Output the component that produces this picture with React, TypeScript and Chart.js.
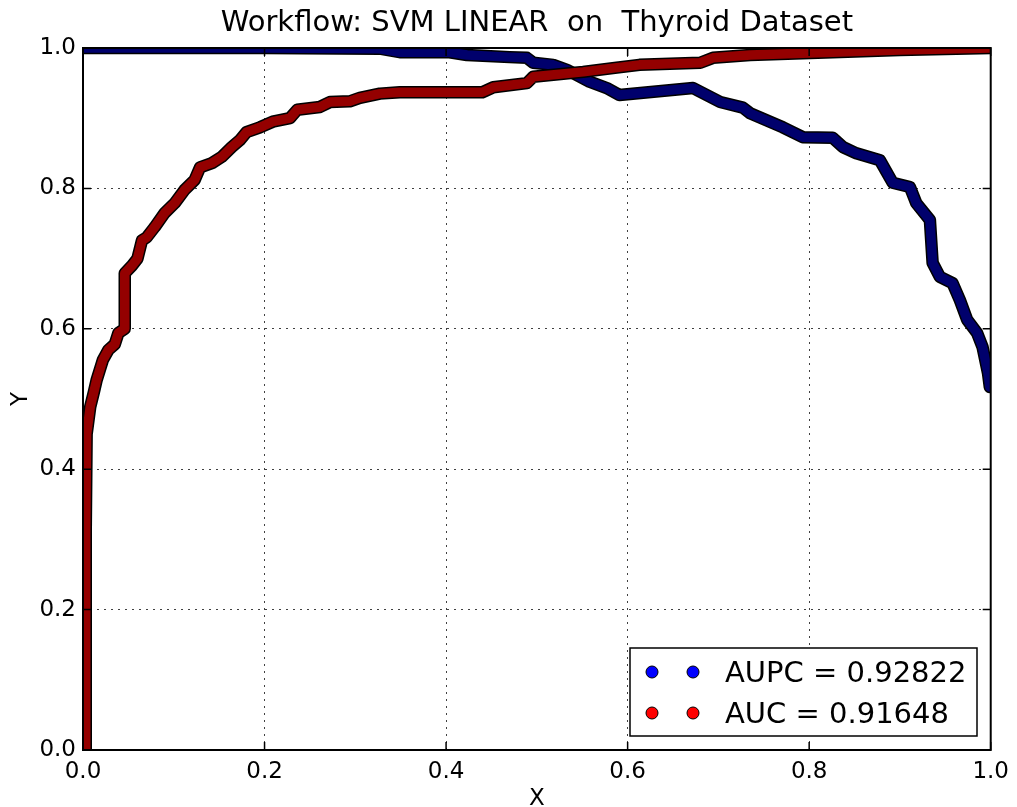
import React, { useEffect, useRef } from "react";
import { Chart, registerables } from "chart.js";

Chart.register(...registerables);

const titleText = "Workflow: SVM LINEAR  on  Thyroid Dataset";
const xLabel = "X";
const yLabel = "Y";
const legendLabels = ["AUPC = 0.92822", "AUC = 0.91648"];
const tickValues = [0, 0.2, 0.4, 0.6, 0.8, 1.0];

// AUC (ROC) curve, red
const rocX = [0.003, 0.003, 0.004, 0.008, 0.012, 0.015, 0.022, 0.028, 0.035, 0.039, 0.046, 0.046, 0.054, 0.06, 0.065, 0.07, 0.079, 0.09, 0.101, 0.112, 0.123, 0.129, 0.142, 0.153, 0.164, 0.173, 0.18, 0.195, 0.209, 0.228, 0.236, 0.261, 0.272, 0.294, 0.305, 0.327, 0.349, 0.44, 0.452, 0.489, 0.496, 0.551, 0.588, 0.613, 0.68, 0.694, 0.735, 0.826, 0.9, 1.0];
const rocY = [0.0, 0.31, 0.45, 0.489, 0.51, 0.527, 0.556, 0.57, 0.578, 0.594, 0.6, 0.679, 0.69, 0.7, 0.726, 0.73, 0.745, 0.765, 0.779, 0.798, 0.812, 0.83, 0.836, 0.845, 0.859, 0.869, 0.88, 0.887, 0.895, 0.9, 0.912, 0.916, 0.923, 0.924, 0.929, 0.935, 0.937, 0.937, 0.944, 0.95, 0.959, 0.966, 0.972, 0.976, 0.979, 0.986, 0.99, 0.994, 0.997, 1.0];

// AUPC curve, blue
const prX = [0.0, 0.2, 0.327, 0.349, 0.404, 0.423, 0.47, 0.489, 0.496, 0.518, 0.533, 0.558, 0.577, 0.591, 0.672, 0.687, 0.702, 0.727, 0.735, 0.771, 0.793, 0.826, 0.837, 0.852, 0.878, 0.892, 0.911, 0.918, 0.933, 0.936, 0.944, 0.958, 0.966, 0.974, 0.985, 0.991, 0.997, 0.999];
const prY = [1.0, 1.0, 0.999, 0.994, 0.994, 0.99, 0.987, 0.986, 0.979, 0.976, 0.969, 0.952, 0.943, 0.933, 0.943, 0.933, 0.923, 0.915, 0.907, 0.887, 0.873, 0.872, 0.859, 0.85, 0.84, 0.808, 0.802, 0.779, 0.755, 0.694, 0.674, 0.665, 0.641, 0.613, 0.594, 0.574, 0.537, 0.517];

const toPts = (xs: number[], ys: number[]) => xs.map((x, i) => ({ x, y: ys[i] }));

const FONT = "'DejaVu Sans', sans-serif";

const decorPlugin = {
  id: "decor",
  afterDatasetsDraw(chart: any) {
    const { ctx, chartArea } = chart;
    const { left, right, top, bottom } = chartArea;
    const xs = chart.scales.x;
    const ys = chart.scales.y;
    ctx.save();
    ctx.strokeStyle = "#000";
    ctx.lineWidth = 2;
    ctx.strokeRect(left, top, right - left, bottom - top);
    ctx.lineWidth = 1.5;
    const tl = 8;
    tickValues.forEach((v) => {
      const px = xs.getPixelForValue(v);
      const py = ys.getPixelForValue(v);
      ctx.beginPath();
      ctx.moveTo(px, bottom);
      ctx.lineTo(px, bottom - tl);
      ctx.moveTo(px, top);
      ctx.lineTo(px, top + tl);
      ctx.moveTo(left, py);
      ctx.lineTo(left + tl, py);
      ctx.moveTo(right, py);
      ctx.lineTo(right - tl, py);
      ctx.stroke();
    });
    ctx.fillStyle = "#000";
    ctx.font = `29px ${FONT}`;
    ctx.textAlign = "center";
    ctx.textBaseline = "alphabetic";
    ctx.fillText(titleText, (left + right) / 2, 31);
    ctx.font = `23px ${FONT}`;
    ctx.fillText(xLabel, (left + right) / 2, 805);
    ctx.save();
    ctx.translate(27, (top + bottom) / 2);
    ctx.rotate(-Math.PI / 2);
    ctx.fillText(yLabel, 0, 0);
    ctx.restore();
    const bx = 630, by = 648, bw = 347, bh = 88;
    ctx.fillStyle = "#fff";
    ctx.fillRect(bx, by, bw, bh);
    ctx.strokeStyle = "#000";
    ctx.lineWidth = 1.5;
    ctx.strokeRect(bx, by, bw, bh);
    const rows = [
      { y: 672, color: "#0000ff", label: legendLabels[0] },
      { y: 713, color: "#ff0000", label: legendLabels[1] },
    ];
    rows.forEach((r) => {
      [652, 693].forEach((mx) => {
        ctx.beginPath();
        ctx.arc(mx, r.y, 6, 0, Math.PI * 2);
        ctx.fillStyle = r.color;
        ctx.fill();
        ctx.lineWidth = 1;
        ctx.strokeStyle = "#000";
        ctx.stroke();
      });
      ctx.fillStyle = "#000";
      ctx.font = `29px ${FONT}`;
      ctx.textAlign = "left";
      ctx.textBaseline = "alphabetic";
      ctx.fillText(r.label, 725, r.y + 10);
    });
    ctx.restore();
  },
};

export default function App() {
  const ref = useRef<HTMLCanvasElement | null>(null);
  useEffect(() => {
    if (!ref.current) return;
    const roc = toPts(rocX, rocY);
    const pr = toPts(prX, prY);
    const common = {
      showLine: true,
      tension: 0,
      clip: 0,
      borderJoinStyle: "round",
      borderCapStyle: "round",
      pointRadius: 0,
      pointHoverRadius: 0,
    };
    const chart = new Chart(ref.current, {
      type: "scatter",
      data: {
        datasets: [
          { ...common, label: "AUC", data: roc, borderColor: "#940000", borderWidth: 9.5, order: 1 },
          { ...common, label: "AUC outline", data: roc, borderColor: "#000", borderWidth: 12.5, order: 2 },
          { ...common, label: "AUPC", data: pr, borderColor: "#00006c", borderWidth: 9.5, order: 3 },
          { ...common, label: "AUPC outline", data: pr, borderColor: "#000", borderWidth: 12.5, order: 4 },
        ] as any,
      },
      options: {
        animation: false,
        responsive: false,
        maintainAspectRatio: false,
        layout: { padding: { left: 0, right: 26, top: 48, bottom: 0 } },
        plugins: {
          legend: { display: false },
          tooltip: { enabled: false },
          title: { display: false },
        },
        scales: {
          x: {
            type: "linear",
            min: 0,
            max: 1,
            afterFit: (s: any) => {
              s.height = 57;
            },
            afterBuildTicks: (s: any) => {
              s.ticks = tickValues.map((v) => ({ value: v }));
            },
            ticks: {
              font: { family: FONT, size: 23 },
              color: "#000",
              padding: 8,
              maxRotation: 0,
              callback: (v: any) => Number(v).toFixed(1),
            },
            grid: { display: true, drawTicks: false, color: "rgba(0,0,0,0.75)", lineWidth: 1 },
            border: { display: false, dash: [2, 5] },
          },
          y: {
            type: "linear",
            min: 0,
            max: 1,
            afterFit: (s: any) => {
              s.width = 83;
            },
            afterBuildTicks: (s: any) => {
              s.ticks = tickValues.map((v) => ({ value: v }));
            },
            ticks: {
              font: { family: FONT, size: 23 },
              color: "#000",
              padding: 7,
              callback: (v: any) => Number(v).toFixed(1),
            },
            grid: { display: true, drawTicks: false, color: "rgba(0,0,0,0.75)", lineWidth: 1 },
            border: { display: false, dash: [2, 5] },
          },
        },
      },
      plugins: [decorPlugin],
    } as any);
    return () => chart.destroy();
  }, []);
  return (
    <div style={{ position: "fixed", left: 0, top: 0, width: 1017, height: 807, background: "#fff" }}>
      <canvas ref={ref} width={1017} height={807} style={{ width: 1017, height: 807 }} />
    </div>
  );
}
